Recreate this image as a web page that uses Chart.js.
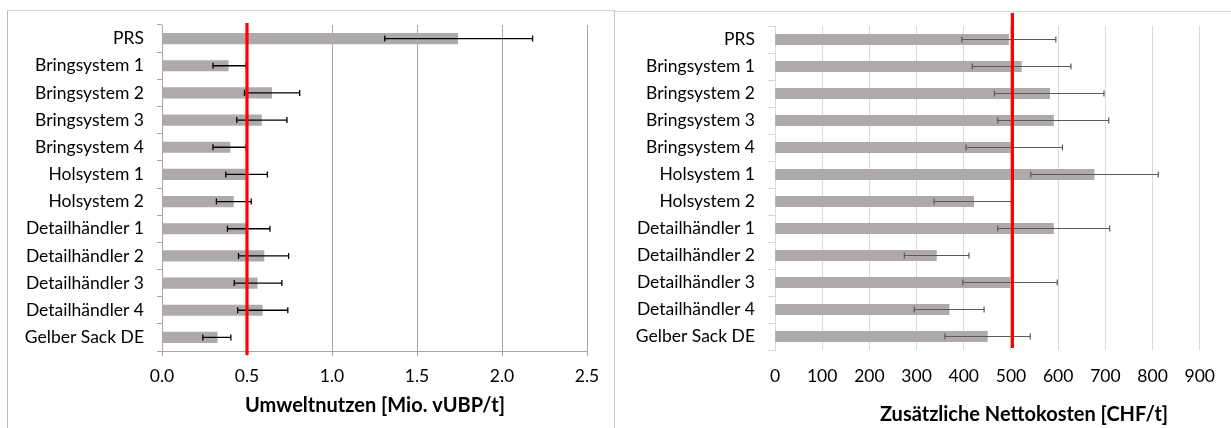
<!DOCTYPE html>
<html>
<head>
<meta charset="utf-8">
<script src="https://cdn.jsdelivr.net/npm/chart.js@4.4.1/dist/chart.umd.min.js"></script>
<style>
  html, body { margin: 0; padding: 0; background: #fff; width: 1231px; height: 428px; overflow: hidden; }
  .line { position: absolute; }
  canvas { position: absolute; top: 0; }
</style>
</head>
<body>
<div class="line" style="left:7px; top:10px; width:1px; height:418px; background:#b8b8b8;"></div>
<div class="line" style="left:7px; top:10px; width:608px; height:1px; background:#d6d6d6;"></div>
<div class="line" style="left:614px; top:10px; width:1px; height:418px; background:#c4c4c4;"></div>
<div class="line" style="left:615px; top:11px; width:616px; height:1px; background:#d6d6d6;"></div>
<canvas id="c1" width="614" height="428" style="left:0px; width:614px; height:428px;"></canvas>
<canvas id="c2" width="617" height="428" style="left:614px; width:617px; height:428px;"></canvas>
<script>
// ---- data ----
const categories = ['PRS', 'Bringsystem 1', 'Bringsystem 2', 'Bringsystem 3', 'Bringsystem 4',
  'Holsystem 1', 'Holsystem 2', 'Detailhändler 1', 'Detailhändler 2', 'Detailhändler 3',
  'Detailhändler 4', 'Gelber Sack DE'];
const umweltnutzen = [1.74, 0.39, 0.645, 0.585, 0.40, 0.49, 0.42, 0.495, 0.60, 0.56, 0.59, 0.325];
const umweltLow    = [1.31, 0.30, 0.485, 0.44, 0.30, 0.375, 0.32, 0.385, 0.45, 0.425, 0.445, 0.24];
const umweltHigh   = [2.18, 0.495, 0.81, 0.735, 0.495, 0.62, 0.525, 0.635, 0.745, 0.705, 0.74, 0.405];
const umweltThreshold = 0.5;
const umweltTicks = [0, 0.5, 1.0, 1.5, 2.0, 2.5];

const nettokosten = [495, 522, 582, 590, 500, 676, 421, 590, 342, 498, 369, 450];
const kostenLow   = [396, 418, 465, 472, 405, 542, 337, 472, 274, 398, 295, 360];
const kostenHigh  = [595, 627, 697, 707, 609, 812, 501, 709, 411, 598, 443, 541];
const kostenThreshold = 503;
const kostenTicks = [0, 100, 200, 300, 400, 500, 600, 700, 800, 900];

const titleLeft = 'Umweltnutzen [Mio. vUBP/t]';
const titleRight = 'Zusätzliche Nettokosten [CHF/t]';

// ---- plugin: error bars, reference line, axis title ----
const overlay = {
  id: 'overlay',
  afterDatasetsDraw(chart, args, opts) {
    const ctx = chart.ctx;
    const xs = chart.scales.x, ys = chart.scales.y;
    const area = chart.chartArea;
    ctx.save();
    ctx.strokeStyle = opts.errColor;
    ctx.lineWidth = opts.errWidth;
    for (let i = 0; i < opts.low.length; i++) {
      const y = ys.getPixelForValue(i);
      const x1 = xs.getPixelForValue(opts.low[i]);
      const x2 = xs.getPixelForValue(opts.high[i]);
      ctx.beginPath();
      ctx.moveTo(x1, y); ctx.lineTo(x2, y);
      ctx.moveTo(x1, y - opts.cap); ctx.lineTo(x1, y + opts.cap);
      ctx.moveTo(x2, y - opts.cap); ctx.lineTo(x2, y + opts.cap);
      ctx.stroke();
    }
    const rx = xs.getPixelForValue(opts.ref);
    ctx.strokeStyle = '#ff0000';
    ctx.lineWidth = 3.2;
    ctx.beginPath();
    ctx.moveTo(rx, area.top + opts.refTop);
    ctx.lineTo(rx, area.bottom + opts.refBottom);
    ctx.stroke();
    ctx.restore();
  },
  afterDraw(chart, args, opts) {
    const ctx = chart.ctx;
    ctx.save();
    ctx.font = 'bold ' + opts.titleSize + 'px Lato';
    ctx.fillStyle = '#000';
    ctx.textAlign = 'center';
    ctx.textBaseline = 'middle';
    ctx.fillText(opts.title, opts.titleX, opts.titleY);
    ctx.restore();
  }
};

const FONT = 'Lato';
const FS = 17.5;

function makeChart(id, cfg) {
  return new Chart(document.getElementById(id), {
    type: 'bar',
    data: {
      labels: categories,
      datasets: [{
        data: cfg.values,
        backgroundColor: '#aeaaaa',
        borderWidth: 0,
        barThickness: 10.5
      }]
    },
    options: {
      indexAxis: 'y',
      responsive: false,
      animation: false,
      devicePixelRatio: 1,
      layout: { padding: cfg.padding },
      plugins: {
        legend: { display: false },
        tooltip: { enabled: false },
        overlay: cfg.overlay
      },
      scales: {
        x: {
          type: 'linear',
          min: cfg.ticks[0],
          max: cfg.ticks[cfg.ticks.length - 1],
          afterBuildTicks(scale) { scale.ticks = cfg.ticks.map(v => ({ value: v })); },
          afterFit(scale) { scale.height = cfg.xHeight; },
          ticks: {
            callback: cfg.tickFmt,
            font: { family: FONT, size: FS },
            color: '#000',
            padding: cfg.xPad,
            maxRotation: 0
          },
          grid: {
            color: cfg.gridColor,
            lineWidth: 1,
            drawTicks: cfg.xTicks,
            tickLength: 5
          },
          border: { display: cfg.xBorder, color: cfg.gridColor }
        },
        y: {
          type: 'category',
          afterFit(scale) { scale.width = cfg.yWidth; },
          ticks: {
            font: { family: FONT, size: FS },
            color: '#000',
            padding: cfg.yPad,
            autoSkip: false
          },
          grid: {
            drawOnChartArea: false,
            color: cfg.axisColor,
            tickLength: cfg.yTickLen,
            offset: true
          },
          border: { color: cfg.axisColor }
        }
      }
    },
    plugins: [overlay]
  });
}

makeChart('c1', {
  values: umweltnutzen,
  ticks: umweltTicks,
  tickFmt: v => Number(v).toFixed(1),
  padding: { top: 25, right: 27, left: 0, bottom: 0 },
  xHeight: 77, yWidth: 162, xPad: 10, yPad: 13, yTickLen: 5,
  gridColor: '#a6a6a6', axisColor: '#a6a6a6', xTicks: true, xBorder: true,
  overlay: { low: umweltLow, high: umweltHigh, errColor: '#000', errWidth: 1.3, cap: 3,
    ref: umweltThreshold, refTop: -2, refBottom: 4,
    title: titleLeft, titleSize: 20, titleX: 375, titleY: 406 }
});

makeChart('c2', {
  values: nettokosten,
  ticks: kostenTicks,
  tickFmt: v => String(v),
  padding: { top: 26, right: 28, left: 0, bottom: 0 },
  xHeight: 78, yWidth: 161, xPad: 16, yPad: 13, yTickLen: 7,
  gridColor: '#d9d9d9', axisColor: '#d9d9d9', xTicks: false, xBorder: false,
  overlay: { low: kostenLow, high: kostenHigh, errColor: '#595959', errWidth: 1.2, cap: 3,
    ref: kostenThreshold, refTop: -13, refBottom: -2,
    title: titleRight, titleSize: 20, titleX: 410, titleY: 415 }
});
</script>
</body>
</html>
